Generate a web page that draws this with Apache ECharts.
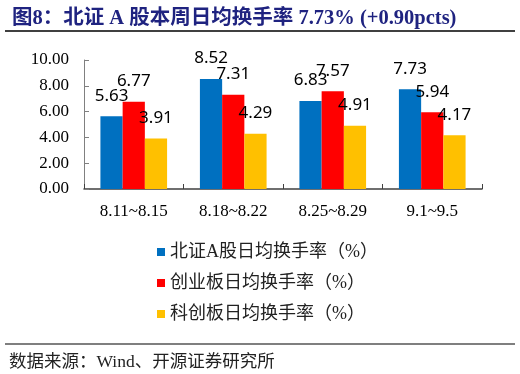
<!DOCTYPE html>
<html>
<head>
<meta charset="utf-8">
<script src="https://cdn.jsdelivr.net/npm/echarts@6/dist/echarts.min.js"></script>
<style>
html,body{margin:0;padding:0;background:#fff;}
#chart{width:520px;height:374px;}
</style>
</head>
<body>
<div id="chart"></div>
<script>
var categories = ['8.11~8.15', '8.18~8.22', '8.25~8.29', '9.1~9.5'];
var seriesNames = ['北证A股日均换手率（%）', '创业板日均换手率（%）', '科创板日均换手率（%）'];
var bseValues = [5.63, 8.52, 6.83, 7.73];
var chinextValues = [6.77, 7.31, 7.57, 5.94];
var starValues = [3.91, 4.29, 4.91, 4.17];
var colors = ['#0070C0', '#FF0000', '#FFC000'];
var titleText = '图8：北证 A 股本周日均换手率 7.73% (+0.90pcts)';
var sourceText = '数据来源：Wind、开源证券研究所';

var serifFont = '"Liberation Serif", "Noto Sans CJK SC", serif';

var chart = echarts.init(document.getElementById('chart'), null, {renderer: 'canvas'});

function mkSeries(name, data, color) {
  return {
    name: name,
    type: 'bar',
    data: data,
    barGap: '0%',
    barCategoryGap: '33%',
    itemStyle: {color: color},
    label: {
      show: true,
      position: 'top',
      distance: 12,
      fontFamily: '"Noto Sans", sans-serif',
      fontSize: 17,
      color: '#000',
      formatter: function (p) { return p.value.toFixed(2); }
    }
  };
}

var option = {
  animation: false,
  backgroundColor: '#fff',
  title: [{
    text: titleText,
    left: 7,
    top: 3,
    textStyle: {
      fontFamily: serifFont,
      fontWeight: 'bold',
      fontSize: 20.5,
      color: '#1F2380'
    }
  }, {
    text: sourceText,
    left: 4,
    top: 349,
    textStyle: {
      fontFamily: serifFont,
      fontWeight: 'normal',
      fontSize: 17.5,
      color: '#222'
    }
  }],
  graphic: [{
    type: 'line',
    shape: {x1: 5, y1: 31, x2: 515, y2: 31},
    style: {stroke: '#000', lineWidth: 1.5}
  }, {
    type: 'line',
    shape: {x1: 5, y1: 344, x2: 515, y2: 344},
    style: {stroke: '#000', lineWidth: 1.2}
  }],
  legend: {
    orient: 'vertical',
    left: 152,
    top: 238,
    itemWidth: 8,
    itemHeight: 8,
    itemGap: 13,
    icon: 'rect',
    textStyle: {
      fontFamily: serifFont,
      fontSize: 18,
      lineHeight: 18,
      color: '#222'
    },
    data: seriesNames
  },
  grid: {
    left: 84,
    right: 38,
    top: 60,
    bottom: 185,
    containLabel: false
  },
  xAxis: {
    type: 'category',
    data: categories,
    axisLine: {lineStyle: {color: '#404040', width: 1.5}},
    axisTick: {show: true, inside: true, length: 5, alignWithLabel: false, lineStyle: {color: '#404040'}},
    axisLabel: {
      fontFamily: serifFont,
      fontSize: 17,
      color: '#000',
      margin: 14
    }
  },
  yAxis: {
    type: 'value',
    min: 0,
    max: 10,
    interval: 2,
    axisLine: {show: true, lineStyle: {color: '#808080', width: 1}},
    axisTick: {show: true, inside: true, length: 5, lineStyle: {color: '#808080'}},
    splitLine: {show: false},
    axisLabel: {
      fontFamily: serifFont,
      fontSize: 17,
      color: '#000',
      margin: 15,
      formatter: function (v) { return v.toFixed(2); }
    }
  },
  series: [
    mkSeries(seriesNames[0], bseValues, colors[0]),
    mkSeries(seriesNames[1], chinextValues, colors[1]),
    mkSeries(seriesNames[2], starValues, colors[2])
  ]
};
chart.setOption(option);
</script>
</body>
</html>
